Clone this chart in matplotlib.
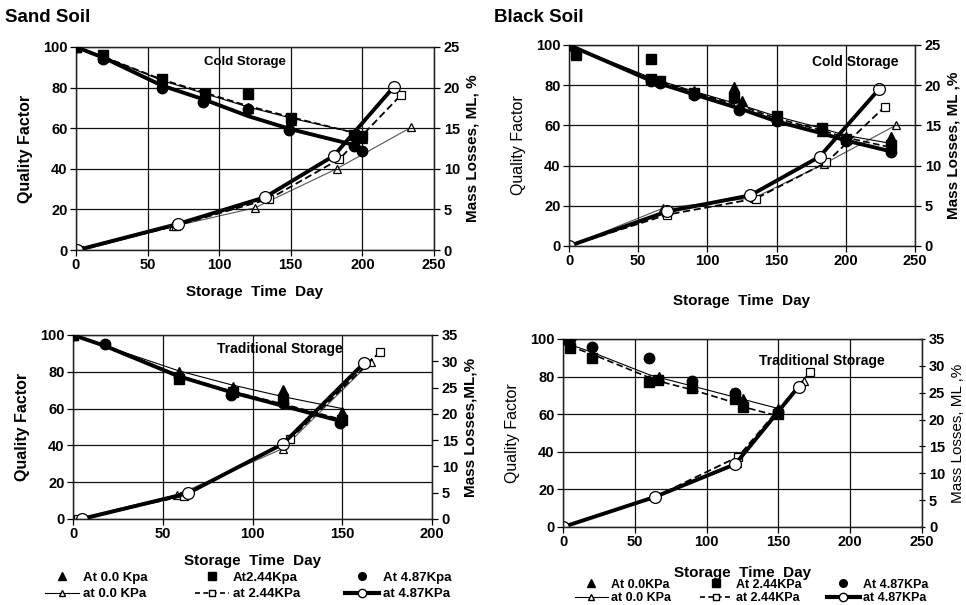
import matplotlib
matplotlib.use('Agg')
import matplotlib.pyplot as plt
from matplotlib.lines import Line2D

plt.rcParams['font.family'] = ['Liberation Sans', 'DejaVu Sans']
NARROW = ['Liberation Sans Narrow', 'Liberation Sans', 'DejaVu Sans']

# ---------------- Sand soil, cold storage ----------------
sc_tri_days = [0, 19, 60, 90, 120, 150, 194, 200]
sc_tri_qf = [100, 95, 83, 76, 70, 64, 57, 55]
sc_sq_days = [0, 19, 60, 90, 120, 150, 194, 200]
sc_sq_qf = [100, 96, 84, 77, 77, 65, 56.5, 56]
sc_ci_days = [0, 19, 60, 89, 120, 149, 194, 200]
sc_ci_qf = [100, 94, 80, 73, 69.5, 59, 51, 49]
sc_fit_days = [0, 20, 60, 90, 120, 150, 190, 200]
sc_fit_thin = [100, 95, 83.5, 77, 70.5, 65, 58.5, 57.5]
sc_fit_dash = [100, 95, 84, 77.5, 71, 65.5, 58.5, 57]
sc_fit_thick = [100, 94.5, 81, 74, 66, 59.5, 52.5, 50]
sc_ml_tri_days = [5, 68, 125, 182, 234]
sc_ml_tri = [0, 2.9, 5.2, 10.0, 15.1]
sc_ml_sq_days = [2, 70, 135, 184, 227]
sc_ml_sq = [0, 3.0, 6.3, 11.2, 19.1]
sc_ml_ci_days = [1, 71, 132, 180, 222]
sc_ml_ci = [0, 3.2, 6.5, 11.6, 20.1]

# ---------------- Black soil, cold storage ----------------
bc_tri_days = [0, 5, 59, 90, 119, 125, 150, 183, 200, 233]
bc_tri_qf = [100, 95, 83, 77, 79, 72, 63, 57, 54, 54]
bc_sq_days = [0, 5, 59, 59, 66, 90, 119, 150, 183, 200, 233]
bc_sq_qf = [100, 95.5, 93, 83, 82, 76, 74, 64.5, 58.5, 53, 50]
bc_ci_days = [0, 59, 66, 90, 123, 150, 200, 233]
bc_ci_qf = [100, 82, 81, 75, 67.5, 62, 52, 47]
bc_fit_days = [0, 60, 90, 125, 150, 183, 200, 233]
bc_fit_thin = [100, 83.5, 77, 70, 64.5, 58.5, 55, 51]
bc_fit_dash = [100, 83, 76.5, 69.5, 63.5, 57.5, 54, 49]
bc_fit_thick = [100, 82, 75.5, 68, 62, 56, 52.5, 47]
bc_ml_tri_days = [0, 68, 134, 184, 236]
bc_ml_tri = [0, 4.7, 6.0, 10.2, 15.0]
bc_ml_sq_days = [0, 71, 135, 186, 228]
bc_ml_sq = [0, 3.9, 5.9, 10.4, 17.3]
bc_ml_ci_days = [0, 71, 131, 181, 224]
bc_ml_ci = [0, 4.3, 6.3, 11.1, 19.5]

# ---------------- Sand soil, traditional storage ----------------
st_tri_days = [0, 59, 89, 117, 150]
st_tri_qf = [100, 80, 71.5, 70, 58]
st_sq_days = [0, 59, 89, 117, 150]
st_sq_qf = [100, 76, 69, 65, 54]
st_ci_days = [0, 18, 59, 88, 117, 149]
st_ci_qf = [100, 95, 77, 67.5, 63, 52]
st_fit_days = [0, 18, 59, 88, 117, 150]
st_fit_thin = [100, 94, 80.5, 73, 66.5, 60]
st_fit_dash = [100, 94.5, 78, 69.5, 62.5, 54]
st_fit_thick = [100, 94, 77.5, 69, 61.5, 53]
st_ml_tri_days = [1, 58, 117, 166]
st_ml_tri = [0, 4.6, 13.4, 29.9]
st_ml_sq_days = [3, 62, 121, 171]
st_ml_sq = [0, 4.4, 15.2, 31.8]
st_ml_ci_days = [5, 64, 117, 162]
st_ml_ci = [0, 4.9, 14.3, 29.6]

# ---------------- Black soil, traditional storage ----------------
bt_tri_days = [0, 5, 20, 60, 67, 90, 120, 125, 150]
bt_tri_qf = [100, 96, 91, 78, 80, 75, 70, 68, 63]
bt_sq_days = [0, 5, 20, 60, 66, 90, 120, 125, 150]
bt_sq_qf = [100, 95, 90, 77, 78, 74, 68, 64, 60]
bt_ci_days = [0, 5, 20, 60, 90, 120, 150]
bt_ci_qf = [100, 100, 95.5, 90, 77.5, 71.5, 61]
bt_fit_days = [0, 5, 20, 60, 67, 90, 120, 125, 150]
bt_fit_thin = [100, 97, 93, 81, 79.5, 75, 69, 68, 63]
bt_fit_dash = [100, 96, 92, 79.5, 77.5, 73, 66, 64, 59]
bt_ml_tri_days = [0, 63, 121, 168]
bt_ml_tri = [0, 5.7, 12.0, 27.2]
bt_ml_sq_days = [0, 64, 122, 172]
bt_ml_sq = [0, 5.6, 13.1, 28.8]
bt_ml_ci_days = [0, 64, 120, 164]
bt_ml_ci = [0, 5.6, 11.7, 26.1]

qf_ticks = [0, 20, 40, 60, 80, 100]

fig = plt.figure(figsize=(9.66, 6.05), dpi=100)
W, H = 966.0, 605.0


def box(l, t, r, b):
    return [l / W, 1 - b / H, (r - l) / W, (b - t) / H]


FILLED = dict(color='black', linestyle='none', markersize=7.5)


def panel(rect, xmax, xstep, mlmax, pts, fits, mls, stitle, spos, sfs,
          rlabel, lbold, rbold, xlabel, xlab_y, rtickdir='out'):
    ax = fig.add_axes(rect)
    ax2 = ax.twinx()
    ax.set_zorder(ax2.get_zorder() + 1)
    ax.patch.set_visible(False)
    # fits (quality factor)
    styles = [dict(color='black', lw=0.8, ls='-'),
              dict(color='black', lw=1.2, ls=(0, (4, 2))),
              dict(color='black', lw=2.8, ls='-')]
    for (d, v), st in zip(fits, styles):
        if d is not None:
            ax.plot(d, v, **st, zorder=2)
    mk = ['^', 's', 'o']
    for (d, v), m in zip(pts, mk):
        ax.plot(d, v, marker=m, **FILLED, zorder=3)
    # mass losses
    mlst = [dict(color='#555555', lw=0.8, ls='-', marker='^', ms=6),
            dict(color='black', lw=1.3, ls=(0, (4, 2)), marker='s', ms=5.5),
            dict(color='black', lw=2.8, ls='-', marker='o', ms=8.5)]
    for (d, v), st in zip(mls, mlst):
        ax2.plot(d, v, mfc='white', mec='black', mew=0.9, **st)
    ax.set_xlim(0, xmax)
    ax.set_ylim(0, 100)
    ax2.set_ylim(0, mlmax)
    ax.set_xticks(range(0, xmax + 1, xstep))
    ax.set_yticks(qf_ticks)
    ax2.set_yticks(range(0, mlmax + 1, 5))
    ax.grid(True, color='#111111', lw=0.9)
    ax.set_axisbelow(True)
    for a in (ax, ax2):
        for s in a.spines.values():
            s.set_color('#222222')
            s.set_linewidth(0.9)
    ax.tick_params(direction='out', length=4, width=0.9, labelsize=10.5, pad=2)
    ax2.tick_params(direction=rtickdir, length=4, width=0.9, labelsize=10.5, pad=3)
    for lab in ax.get_xticklabels() + ax.get_yticklabels() + ax2.get_yticklabels():
        lab.set_fontweight('bold')
    ax.set_ylabel('Quality Factor', fontsize=11.5,
                  fontweight='bold' if lbold else 'normal', labelpad=7)
    ax2.set_ylabel(rlabel, fontsize=11, fontweight='bold' if rbold else 'normal', labelpad=4)
    ax.text(spos[0], spos[1], stitle, transform=ax.transAxes, ha='center',
            va='center', fontsize=sfs, fontweight='bold')
    xc = rect[0] + rect[2] / 2
    fig.text(xc, 1 - xlab_y / H, xlabel, ha='center', va='center',
             fontsize=11, fontweight='bold')
    return ax


panel(box(76, 47, 434, 250), 250, 50, 25,
      [(sc_tri_days, sc_tri_qf), (sc_sq_days, sc_sq_qf), (sc_ci_days, sc_ci_qf)],
      [(sc_fit_days, sc_fit_thin), (sc_fit_days, sc_fit_dash), (sc_fit_days, sc_fit_thick)],
      [(sc_ml_tri_days, sc_ml_tri), (sc_ml_sq_days, sc_ml_sq), (sc_ml_ci_days, sc_ml_ci)],
      'Cold Storage', (0.472, 0.925), 9.5, 'Mass Losses, ML, %', True, True,
      'Storage  Time  Day', 292)

panel(box(569, 45, 915, 246), 250, 50, 25,
      [(bc_tri_days, bc_tri_qf), (bc_sq_days, bc_sq_qf), (bc_ci_days, bc_ci_qf)],
      [(bc_fit_days, bc_fit_thin), (bc_fit_days, bc_fit_dash), (bc_fit_days, bc_fit_thick)],
      [(bc_ml_tri_days, bc_ml_tri), (bc_ml_sq_days, bc_ml_sq), (bc_ml_ci_days, bc_ml_ci)],
      'Cold Storage', (0.827, 0.915), 10, 'Mass Losses, ML ,%', False, True,
      'Storage  Time  Day', 301)

panel(box(73, 335, 432, 519), 200, 50, 35,
      [(st_tri_days, st_tri_qf), (st_sq_days, st_sq_qf), (st_ci_days, st_ci_qf)],
      [(st_fit_days, st_fit_thin), (st_fit_days, st_fit_dash), (st_fit_days, st_fit_thick)],
      [(st_ml_tri_days, st_ml_tri), (st_ml_sq_days, st_ml_sq), (st_ml_ci_days, st_ml_ci)],
      'Traditional Storage', (0.577, 0.924), 10, 'Mass Losses,ML,%', True, True,
      'Storage  Time  Day', 561)

panel(box(563, 339, 922, 527), 250, 50, 35,
      [(bt_tri_days, bt_tri_qf), (bt_sq_days, bt_sq_qf), (bt_ci_days, bt_ci_qf)],
      [(bt_fit_days, bt_fit_thin), (bt_fit_days, bt_fit_dash), (None, None)],
      [(bt_ml_tri_days, bt_ml_tri), (bt_ml_sq_days, bt_ml_sq), (bt_ml_ci_days, bt_ml_ci)],
      'Traditional Storage', (0.721, 0.883), 10, 'Mass Losses, ML ,%', False, False,
      'Storage  Time  Day', 573, rtickdir='inout')

fig.text(5 / W, 1 - 18 / H, 'Sand Soil', fontsize=13.5, fontweight='bold', va='center')
fig.text(494 / W, 1 - 18 / H, 'Black Soil', fontsize=13.5, fontweight='bold', va='center')


def legend_col(x, yc, labels, marker, line_style, fs, spacing):
    h1 = Line2D([], [], marker=marker, color='black', ls='none', ms=5.5)
    h2 = Line2D([], [], marker=marker, mfc='white', mec='black', color='black',
                ms=5 if marker != 'o' else 6, **line_style)
    lg = fig.legend([h1, h2], labels, loc='center left',
                    bbox_to_anchor=(x / W, 1 - yc / H), frameon=False,
                    borderpad=0, borderaxespad=0, handlelength=2.6,
                    handletextpad=0.25, labelspacing=spacing,
                    prop=dict(family=NARROW, weight='bold', size=fs))
    return lg


thin_ls = dict(lw=0.8, ls='-')
dash_ls = dict(lw=1.2, ls=(0, (3, 2)))
thick_ls = dict(lw=3.0, ls='-')

legend_col(45, 586, ['At 0.0 Kpa', 'at 0.0 KPa'], '^', thin_ls, 9.5, 0.3)
legend_col(195, 586, ['At2.44Kpa', 'at 2.44KPa'], 's', dash_ls, 9.5, 0.3)
legend_col(345, 586, ['At 4.87Kpa', 'at 4.87KPa'], 'o', thick_ls, 9.5, 0.3)

legend_col(575, 591.5, ['At 0.0KPa', 'at 0.0 KPa'], '^', thin_ls, 9, 0.12)
legend_col(700, 591.5, ['At 2.44KPa', 'at 2.44KPa'], 's', dash_ls, 9, 0.12)
legend_col(827, 591.5, ['At 4.87KPa', 'at 4.87KPa'], 'o', thick_ls, 9, 0.12)

fig.savefig('out.png', dpi=100)
